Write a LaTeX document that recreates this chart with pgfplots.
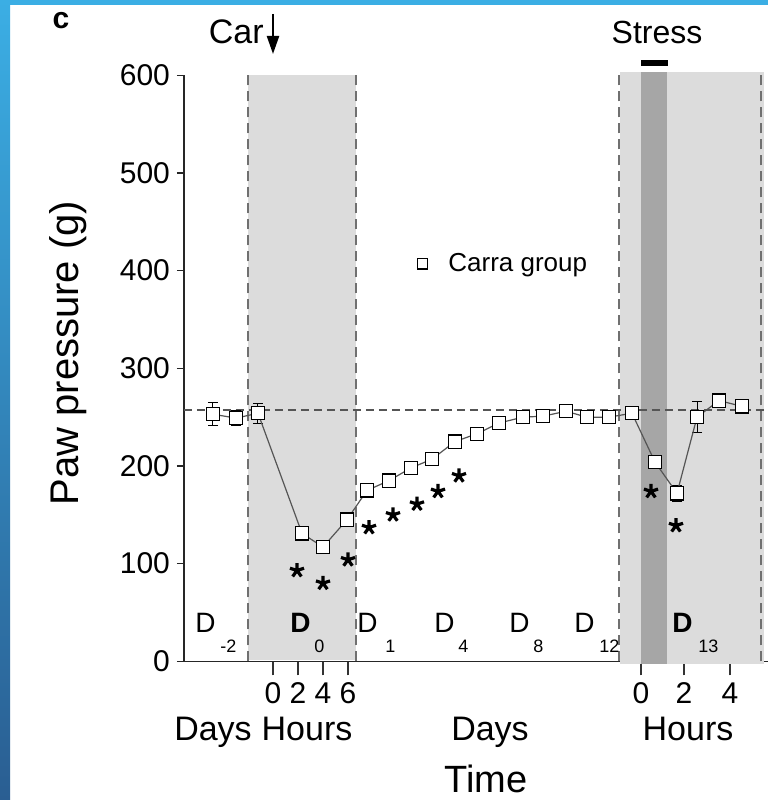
\documentclass[border=0pt]{standalone}
\usepackage{pgfplots}
\pgfplotsset{compat=1.18}
\usepackage{pgfplotstable}
\usepackage{fontspec}
\setmainfont{Liberation Sans}
\usetikzlibrary{arrows.meta}

\definecolor{lightband}{HTML}{DCDCDC}
\definecolor{darkband}{HTML}{A6A6A6}
\definecolor{frameTop}{HTML}{3BAEE4}
\definecolor{frameBot}{HTML}{2A5E92}
\definecolor{guide}{HTML}{707070}
\definecolor{trace}{HTML}{555555}

% Paw pressure of the carrageenan group; x is the position on the broken time line
\pgfplotstableread{
x   y    e
213 253  12
236 249  8
258 254  10
302 131  5
323 117  4
347 145  5
367 175  4
389 185  4
411 198  4
432 207  4
455 225  4
477 233  4
499 244  3
523 250  3
543 251  3
566 256  3
587 250  3
609 250  3
632 254  5
655 204  6
677 172  8
697 250  16
719 267  7
742 261  5
}\pawdata

% significance markers
\pgfplotstableread{
x   y
297 93
323 80
348 104
369 137
393 150
417 161
438 174
459 190
651 174
676 139
}\sigdata

\newcommand{\fs}[1]{\fontsize{#1}{#1}\selectfont}

\begin{document}
\begin{tikzpicture}[x=0.5pt,y=0.5pt]
% frame
\fill[white] (0,0) rectangle (768,800);
\shade[top color=frameTop,bottom color=frameBot] (0,0) rectangle (10,800);
\fill[frameTop] (0,795) rectangle (768,800);

% hour ticks of the time axis
\begin{axis}[at={(184,142)}, anchor=south west, scale only axis,
  width=292pt, height=293pt, xmin=184, xmax=768, ymin=0, ymax=600,
  hide y axis, axis x line*=bottom, x axis line style={draw=none},
  xtick={273,298,323,348,641,684,730}, xticklabels={0,2,4,6,0,2,4},
  major tick length=7pt, tick align=outside,
  tick style={line width=0.8pt, black!80},
  xticklabel style={font=\fs{15}},
  /pgf/number format/assume math mode=true]
\end{axis}

\begin{axis}[at={(184,142)}, anchor=south west, scale only axis,
  width=292pt, height=293pt, xmin=184, xmax=768, ymin=0, ymax=600,
  axis x line*=bottom, axis y line*=left, axis line style={-, line width=0.8pt, black!85},
  xtick=\empty, ytick={0,100,...,600},
  major tick length=3.5pt, tick align=outside,
  tick style={line width=0.8pt, black!85},
  yticklabel style={font=\fs{15}},
  /pgf/number format/assume math mode=true,
  clip=false,
  legend style={at={(axis cs:414,407)}, anchor=west, draw=none, fill=none,
    font=\fs{13}, inner sep=0pt},
  legend image code/.code={\draw[black, line width=0.6pt, fill=white, solid]
    (0.05cm,-2.6pt) rectangle ++(5.2pt,5.2pt);
    \path[draw=none, fill=none] (0,-2.6pt) rectangle (15pt,2.6pt);}]

% treatment and stress windows
\addplot[forget plot, fill=lightband, draw=none] coordinates {(248,1.2) (248,600) (356,600) (356,1.2)} -- cycle;
\addplot[forget plot, fill=lightband, draw=none] coordinates {(620,-3) (620,603) (764,603) (764,-3)} -- cycle;
\addplot[forget plot, fill=darkband, draw=none] coordinates {(641,-3) (641,603) (667,603) (667,-3)} -- cycle;

% window borders
\pgfplotsinvokeforeach{248,356,619,761}{
  \addplot[forget plot, guide, line width=0.7pt, dash pattern=on 5pt off 3pt] coordinates {(#1,0) (#1,600)};
}

% baseline level
\addplot[forget plot, trace, line width=0.9pt, dash pattern=on 4pt off 2.5pt] coordinates {(184,257) (768,257)};

% stress period bar
\addplot[forget plot, black, line width=3pt] coordinates {(641,613) (668,613)};

% error bars
\addplot[forget plot, only marks, mark=none,
  error bars/.cd, y dir=both, y explicit, error mark=|,
  error bar style={draw=black, line width=0.5pt},
  error mark options={draw=black, line width=0.5pt, mark size=2.6pt}]
  table[x=x, y=y, y error=e] {\pawdata};

% mean values
\addplot[trace, line width=0.6pt, mark=square*, mark size=3.3pt,
  mark options={draw=black, fill=white, line width=0.6pt, solid}]
  table[x=x, y=y] {\pawdata};
\addlegendentry{Carra group}

% significance stars
\addplot[forget plot, only marks, mark=star, mark size=3.7pt, black, line width=1.6pt]
  table[x=x, y=y] {\sigdata};

\end{axis}

% annotations
\node[font=\bfseries\fs{15}] at (61,779) {c};
\node[font=\fs{17}, anchor=east, inner sep=0pt] at (264,768) {Car};
\draw[-{Triangle[length=9pt,width=6pt]}, line width=1.1pt] (273,786) -- (273,746);
\node[font=\fs{16}] at (657,768) {Stress};

% day markers
\begin{scope}[every node/.style={inner sep=0pt, anchor=base west}]
\node[font=\fs{14}] at (195,167) {D};            \node[font=\fs{9}] at (220,148) {-2};
\node[font=\bfseries\fs{14}] at (290,167) {D};   \node[font=\fs{9}] at (314,148) {0};
\node[font=\fs{14}] at (357,167) {D};            \node[font=\fs{9}] at (385,148) {1};
\node[font=\fs{14}] at (434,167) {D};            \node[font=\fs{9}] at (458,148) {4};
\node[font=\fs{14}] at (509,167) {D};            \node[font=\fs{9}] at (533,148) {8};
\node[font=\fs{14}] at (574,167) {D};            \node[font=\fs{9}] at (599,148) {12};
\node[font=\bfseries\fs{14}] at (672,167) {D};   \node[font=\fs{9}] at (698,148) {13};
\end{scope}

% time axis captions
\begin{scope}[every node/.style={inner sep=0pt, anchor=base, font=\fs{17}}]
\node at (213,60) {Days};
\node at (307,60) {Hours};
\node at (490,60) {Days};
\node at (688,60) {Hours};
\end{scope}
\node[font=\fs{19}, anchor=base, inner sep=0pt] at (486,8) {Time};
\node[font=\fs{20}, rotate=90] at (68,447) {Paw pressure (g)};
\end{tikzpicture}
\end{document}
